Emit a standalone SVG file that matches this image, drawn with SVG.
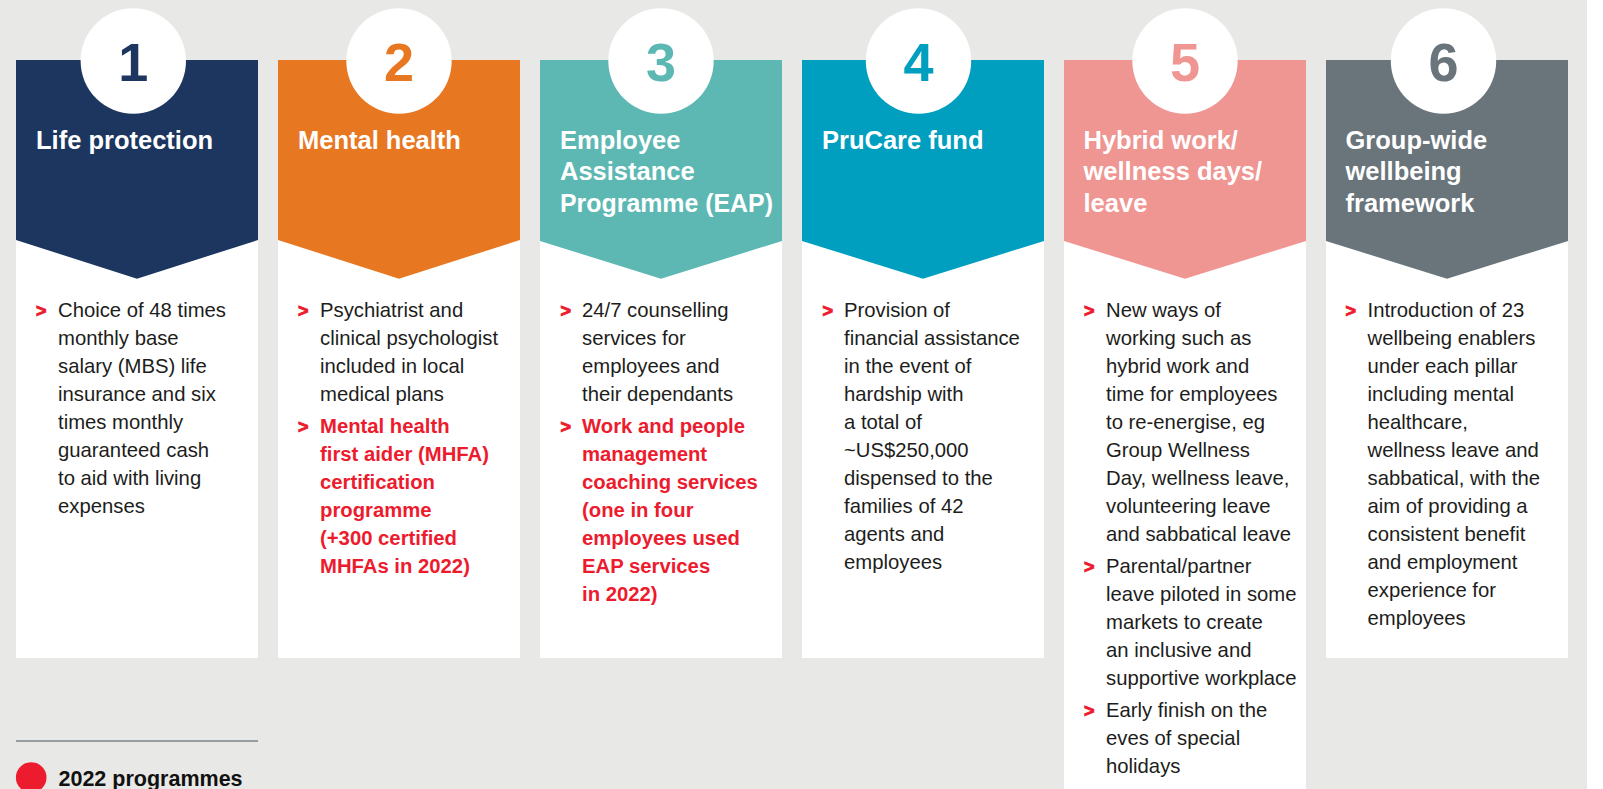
<svg xmlns="http://www.w3.org/2000/svg" width="1603" height="789" viewBox="0 0 1603 789">
<style>
text{font-family:"Liberation Sans",Arial,sans-serif;}
.num{font-size:54px;font-weight:700;text-anchor:middle;}
.ttl{font-size:25.5px;font-weight:700;fill:#ffffff;}
.body{font-size:20.3px;fill:#1d1d1b;}
.red{font-size:20.3px;fill:#ed1b2e;font-weight:700;}
.bul{font-size:18px;fill:#ed1b2e;stroke:#ed1b2e;stroke-width:0.9;font-weight:700;}
.card{fill:#ffffff;}
.disc{fill:#ffffff;}
.leg{font-size:21.5px;font-weight:700;fill:#111111;}
</style>
<rect x="0" y="0" width="1603" height="789" fill="#ffffff"/>
<rect x="0" y="0" width="1587" height="789" fill="#e8e8e6"/>

<g id="card-1">
<rect class="card" x="16" y="240" width="242" height="418"/>
<polygon points="16,60 258,60 258,240 137,278.7 16,240" fill="#1c3660"/>
<circle class="disc" cx="133.3" cy="61" r="52.7"/>
<text class="num" x="133.3" y="81" fill="#1c3660">1</text>
<text class="ttl" x="36" y="149">Life protection</text>
<text class="bul" x="36" y="317.3">&gt;</text>
<text class="body" x="58" y="317.3">Choice of 48 times</text>
<text class="body" x="58" y="345.3">monthly base</text>
<text class="body" x="58" y="373.3">salary (MBS) life</text>
<text class="body" x="58" y="401.3">insurance and six</text>
<text class="body" x="58" y="429.3">times monthly</text>
<text class="body" x="58" y="457.3">guaranteed cash</text>
<text class="body" x="58" y="485.3">to aid with living</text>
<text class="body" x="58" y="513.3">expenses</text>
</g>

<g id="card-2">
<rect class="card" x="278" y="240" width="242" height="418"/>
<polygon points="278,60 520,60 520,240 399,278.7 278,240" fill="#e87722"/>
<circle class="disc" cx="399" cy="61" r="52.7"/>
<text class="num" x="399" y="81" fill="#e87722">2</text>
<text class="ttl" x="298" y="149">Mental health</text>
<text class="bul" x="298" y="317.3">&gt;</text>
<text class="body" x="320" y="317.3">Psychiatrist and</text>
<text class="body" x="320" y="345.3">clinical psychologist</text>
<text class="body" x="320" y="373.3">included in local</text>
<text class="body" x="320" y="401.3">medical plans</text>
<text class="bul" x="298" y="432.7">&gt;</text>
<text class="red" x="320" y="432.7">Mental health</text>
<text class="red" x="320" y="460.7">first aider (MHFA)</text>
<text class="red" x="320" y="488.7">certification</text>
<text class="red" x="320" y="516.7">programme</text>
<text class="red" x="320" y="544.7">(+300 certified</text>
<text class="red" x="320" y="572.7">MHFAs in 2022)</text>
</g>

<g id="card-3">
<rect class="card" x="540" y="240" width="242" height="418"/>
<polygon points="540,60 782,60 782,241 661,278.7 540,241" fill="#5db8b3"/>
<circle class="disc" cx="661" cy="61" r="52.7"/>
<text class="num" x="661" y="81" fill="#5db8b3">3</text>
<text class="ttl" x="560" y="149">Employee</text>
<text class="ttl" x="560" y="180.3">Assistance</text>
<text class="ttl" x="560" y="211.7" textLength="213" lengthAdjust="spacingAndGlyphs">Programme (EAP)</text>
<text class="bul" x="560.5" y="317.3">&gt;</text>
<text class="body" x="582" y="317.3">24/7 counselling</text>
<text class="body" x="582" y="345.3">services for</text>
<text class="body" x="582" y="373.3">employees and</text>
<text class="body" x="582" y="401.3">their dependants</text>
<text class="bul" x="560.5" y="432.7">&gt;</text>
<text class="red" x="582" y="432.7">Work and people</text>
<text class="red" x="582" y="460.7">management</text>
<text class="red" x="582" y="488.7">coaching services</text>
<text class="red" x="582" y="516.7">(one in four</text>
<text class="red" x="582" y="544.7">employees used</text>
<text class="red" x="582" y="572.7">EAP services</text>
<text class="red" x="582" y="600.7">in 2022)</text>
</g>

<g id="card-4">
<rect class="card" x="802" y="240" width="242" height="418"/>
<polygon points="802,60 1044,60 1044,241 923,278.7 802,241" fill="#009fbf"/>
<circle class="disc" cx="918.5" cy="61" r="52.7"/>
<text class="num" x="918.5" y="81" fill="#009fbf">4</text>
<text class="ttl" x="822" y="149">PruCare fund</text>
<text class="bul" x="822.4" y="317.3">&gt;</text>
<text class="body" x="844" y="317.3">Provision of</text>
<text class="body" x="844" y="345.3">financial assistance</text>
<text class="body" x="844" y="373.3">in the event of</text>
<text class="body" x="844" y="401.3">hardship with</text>
<text class="body" x="844" y="429.3">a total of</text>
<text class="body" x="844" y="457.3">~US$250,000</text>
<text class="body" x="844" y="485.3">dispensed to the</text>
<text class="body" x="844" y="513.3">families of 42</text>
<text class="body" x="844" y="541.3">agents and</text>
<text class="body" x="844" y="569.3">employees</text>
</g>

<g id="card-5">
<rect class="card" x="1064" y="240" width="242" height="549"/>
<polygon points="1064,60 1306,60 1306,241 1185,278.7 1064,241" fill="#ef9592"/>
<circle class="disc" cx="1185" cy="61" r="52.7"/>
<text class="num" x="1185" y="81" fill="#ef9592">5</text>
<text class="ttl" x="1083.5" y="149">Hybrid work/</text>
<text class="ttl" x="1083.5" y="180.3">wellness days/</text>
<text class="ttl" x="1083.5" y="211.7">leave</text>
<text class="bul" x="1084" y="317.3">&gt;</text>
<text class="body" x="1106" y="317.3">New ways of</text>
<text class="body" x="1106" y="345.3">working such as</text>
<text class="body" x="1106" y="373.3">hybrid work and</text>
<text class="body" x="1106" y="401.3">time for employees</text>
<text class="body" x="1106" y="429.3">to re-energise, eg</text>
<text class="body" x="1106" y="457.3">Group Wellness</text>
<text class="body" x="1106" y="485.3">Day, wellness leave,</text>
<text class="body" x="1106" y="513.3">volunteering leave</text>
<text class="body" x="1106" y="541.3">and sabbatical leave</text>
<text class="bul" x="1084" y="573">&gt;</text>
<text class="body" x="1106" y="573">Parental/partner</text>
<text class="body" x="1106" y="601">leave piloted in some</text>
<text class="body" x="1106" y="629">markets to create</text>
<text class="body" x="1106" y="657">an inclusive and</text>
<text class="body" x="1106" y="685">supportive workplace</text>
<text class="bul" x="1084" y="716.5">&gt;</text>
<text class="body" x="1106" y="716.5">Early finish on the</text>
<text class="body" x="1106" y="744.5">eves of special</text>
<text class="body" x="1106" y="772.5">holidays</text>
</g>

<g id="card-6">
<rect class="card" x="1326" y="240" width="242" height="418"/>
<polygon points="1326,60 1568,60 1568,241 1447,278.7 1326,241" fill="#69747b"/>
<circle class="disc" cx="1443.5" cy="61" r="52.7"/>
<text class="num" x="1443.5" y="81" fill="#69747b">6</text>
<text class="ttl" x="1345.5" y="149">Group-wide</text>
<text class="ttl" x="1345.5" y="180.3">wellbeing</text>
<text class="ttl" x="1345.5" y="211.7">framework</text>
<text class="bul" x="1345.6" y="317.3">&gt;</text>
<text class="body" x="1367.5" y="317.3">Introduction of 23</text>
<text class="body" x="1367.5" y="345.3">wellbeing enablers</text>
<text class="body" x="1367.5" y="373.3">under each pillar</text>
<text class="body" x="1367.5" y="401.3">including mental</text>
<text class="body" x="1367.5" y="429.3">healthcare,</text>
<text class="body" x="1367.5" y="457.3">wellness leave and</text>
<text class="body" x="1367.5" y="485.3">sabbatical, with the</text>
<text class="body" x="1367.5" y="513.3">aim of providing a</text>
<text class="body" x="1367.5" y="541.3">consistent benefit</text>
<text class="body" x="1367.5" y="569.3">and employment</text>
<text class="body" x="1367.5" y="597.3">experience for</text>
<text class="body" x="1367.5" y="625.3">employees</text>
</g>

<g id="legend">
<line x1="16" y1="741" x2="258" y2="741" stroke="#7b848a" stroke-width="1.5"/>
<circle cx="31.2" cy="777.5" r="15.3" fill="#ed1b2e"/>
<text class="leg" x="58.5" y="786">2022 programmes</text>
</g>
</svg>
